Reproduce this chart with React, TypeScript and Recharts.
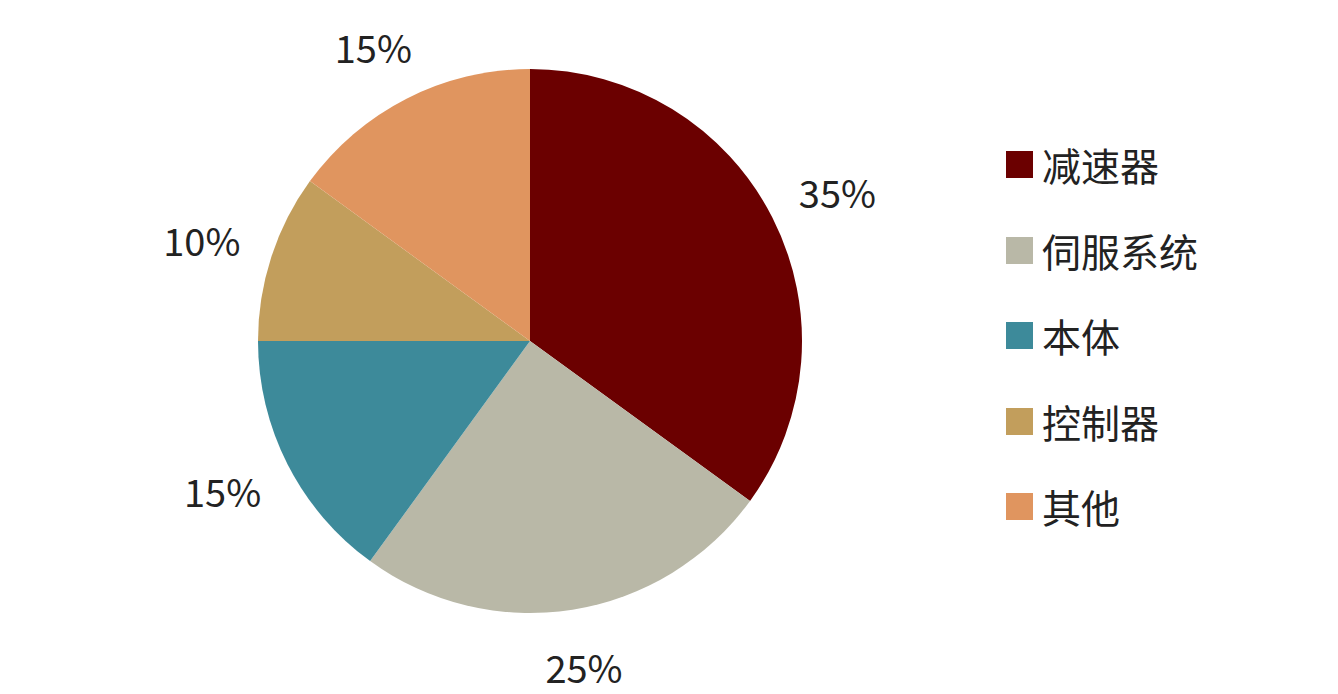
import { Cell, Legend, Pie, PieChart } from 'recharts'

const categories = ['减速器', '伺服系统', '本体', '控制器', '其他']
const shares = [35, 25, 15, 10, 15]
const colors = ['#6b0000', '#b9b8a7', '#3d8a9a', '#c29e5c', '#e0955f']

const data = categories.map((name, idx) => ({ name, value: shares[idx] }))

const RADIAN = Math.PI / 180
const FONT = '"Noto Sans CJK SC", "Noto Sans", sans-serif'

// labels sit on a slightly flattened ring round the pie
const renderLabel = ({ cx, cy, midAngle, value }: any) => {
  const x = cx + 345 * Math.cos(-midAngle * RADIAN)
  const y = cy + 330 * Math.sin(-midAngle * RADIAN)
  return (
    <text x={x} y={y} textAnchor="middle" dominantBaseline="central" fill="#222" fontSize={38} fontFamily={FONT}>
      {value}%
    </text>
  )
}

const renderLegend = () => (
  <div>
    {categories.map((name, idx) => (
      <div key={name} style={{ display: 'flex', alignItems: 'center', height: 85.5 }}>
        <span style={{ width: 27, height: 27, background: colors[idx], display: 'inline-block', marginRight: 9 }} />
        <span style={{ fontSize: 39, color: '#222', fontFamily: FONT, lineHeight: 1 }}>{name}</span>
      </div>
    ))}
  </div>
)

export default function App() {
  return (
    <PieChart width={1322} height={686} margin={{ top: 0, right: 0, bottom: 0, left: 0 }}>
      <Pie
        data={data}
        dataKey="value"
        nameKey="name"
        cx={522}
        cy={333}
        outerRadius={272}
        startAngle={90}
        endAngle={-270}
        stroke="none"
        label={renderLabel}
        labelLine={false}
        isAnimationActive={false}
      >
        {data.map((d, idx) => <Cell key={d.name} fill={colors[idx]} />)}
      </Pie>
      <Legend
        content={renderLegend}
        wrapperStyle={{ left: 998, top: 114, width: 280, bottom: 'auto', right: 'auto' }}
      />
    </PieChart>
  )
}
